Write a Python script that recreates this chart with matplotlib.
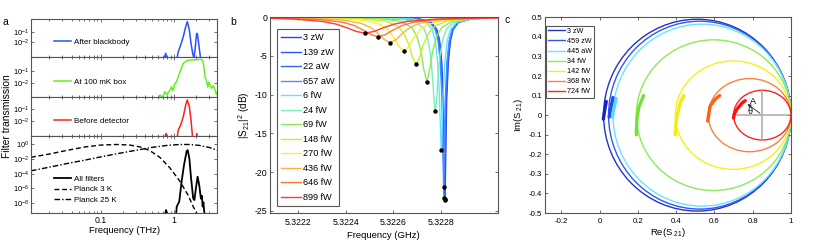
import numpy as np
import matplotlib
matplotlib.use('Agg')
import matplotlib.pyplot as plt
from matplotlib.patches import Ellipse
from matplotlib.lines import Line2D
from matplotlib.ticker import FuncFormatter, FixedLocator, LogLocator, NullFormatter

plt.rcParams['font.family'] = ['Liberation Sans', 'DejaVu Sans']
plt.rcParams['axes.unicode_minus'] = False
plt.rcParams['mathtext.fontset'] = 'custom'
plt.rcParams['mathtext.rm'] = 'Liberation Sans'
plt.rcParams['mathtext.it'] = 'Liberation Sans:italic'

# ---------------- panel a data (frequency THz, log10 transmission) ----------------
blue_f = [0.74, 0.77, 0.80, np.nan, 1.10, 1.145, 1.234, 1.34, 1.445, 1.52, 1.62, 1.706, 1.80, 1.875, 1.934, 2.04, 2.10, 2.17, 2.26, 2.30]
blue_log = [-3.6, -3.1, -3.6, np.nan, -3.6, -2.94, -2.27, -1.44, -0.44, 0.06, -0.77, -2.1, -3.1, -3.6, -2.77, -1.1, -1.25, -2.1, -3.1, -3.6]

green_f = [0.62, 0.644, 0.70, 0.754, 0.80, 0.882, 0.93, 0.97, 1.03, 1.08, 1.145, 1.234, 1.34, 1.49, 1.65, 2.04, 2.39, 2.5, 2.65, 2.79, 2.9, 3.0, 3.1, 3.27, 3.45, 3.62, 3.8, 3.9]
green_log = [-3.2, -2.94, -3.1, -2.67, -2.9, -2.54, -2.27, -2.6, -2.0, -1.9, -1.47, -0.94, -0.41, -0.2, -0.15, -0.12, -0.09, -0.3, -1.47, -1.87, -2.3, -1.9, -2.14, -2.4, -2.2, -2.54, -2.9, -2.7]

red_f = [0.75, 0.78, 0.80, np.nan, 1.10, 1.145, 1.234, 1.34, 1.445, 1.52, 1.62, 1.706, 1.80, np.nan, 2.02, 2.04, 2.06]
red_log = [-3.4, -2.98, -3.4, np.nan, -3.4, -2.71, -2.3, -1.63, -0.67, -0.26, -0.81, -1.89, -3.4, np.nan, -3.4, -3.0, -3.4]

all_f = [0.76, 0.78, 0.80, np.nan, 1.07, 1.09, 1.18, 1.27, 1.37, 1.49, 1.54, 1.62, 1.71, 1.83, 1.90, 1.99, 2.10, 2.21, 2.33, 2.40, 2.46, 2.52, 2.59, 2.62]
all_log = [-9.5, -8.96, -9.5, np.nan, -9.5, -8.5, -7.8, -5.1, -2.8, -0.9, -0.78, -1.9, -4.6, -7.4, -7.6, -6.0, -4.4, -5.55, -7.4, -7.0, -8.5, -7.9, -9.2, -9.5]

p3_f = [0.0112, 0.02, 0.035, 0.06, 0.1, 0.17, 0.25, 0.35, 0.47, 0.64, 0.88, 1.2, 1.57, 1.83, 2.05]
p3_log = [-1.75, -1.3, -0.8, -0.35, -0.08, 0.0, -0.08, -0.35, -0.85, -1.75, -3.2, -5.0, -7.0, -8.5, -9.4]

p25_f = [0.0112, 0.02, 0.035, 0.06, 0.1, 0.17, 0.3, 0.5, 0.8, 1.2, 1.6, 2.2, 3.0, 3.9]
p25_log = [-3.6, -3.1, -2.6, -2.15, -1.7, -1.25, -0.8, -0.4, -0.13, 0.0, 0.0, -0.12, -0.4, -0.78]

# ---------------- panel b data (GHz, dB) ----------------
b_labels = ['3 zW', '139 zW', '22 aW', '657 aW', '6 fW', '24 fW', '69 fW', '148 fW', '270 fW', '436 fW', '646 fW', '899 fW']
b_colors = ['#2244ff', '#2a55ff', '#3366ff', '#4d8cff', '#5ee6ff', '#77f0c0', '#88ec55', '#c4f030', '#ffef30', '#ffb040', '#ff7a30', '#ff3b2b']
b_freq = [
    [5.322080, 5.322703, 5.322760, 5.322784, 5.322795, 5.322804, 5.322811, 5.322814, 5.322818, 5.322822, 5.322825, 5.322832, 5.322841, 5.322852, 5.322875, 5.322933, 5.323040],
    [5.322080, 5.322701, 5.322758, 5.322782, 5.322793, 5.322802, 5.322809, 5.322812, 5.322816, 5.322820, 5.322823, 5.322830, 5.322839, 5.322850, 5.322873, 5.322931, 5.323040],
    [5.322080, 5.322699, 5.322756, 5.322780, 5.322791, 5.322800, 5.322807, 5.322810, 5.322814, 5.322818, 5.322821, 5.322828, 5.322837, 5.322848, 5.322871, 5.322929, 5.323040],
    [5.322080, 5.322692, 5.322752, 5.322776, 5.322788, 5.322798, 5.322805, 5.322808, 5.322812, 5.322816, 5.322819, 5.322826, 5.322836, 5.322848, 5.322872, 5.322932, 5.323040],
    [5.322080, 5.322672, 5.322737, 5.322763, 5.322776, 5.322786, 5.322794, 5.322798, 5.322802, 5.322806, 5.322810, 5.322818, 5.322828, 5.322841, 5.322867, 5.322932, 5.323040],
    [5.322080, 5.322617, 5.322697, 5.322729, 5.322745, 5.322758, 5.322767, 5.322772, 5.322777, 5.322782, 5.322787, 5.322796, 5.322809, 5.322825, 5.322857, 5.322937, 5.323040],
    [5.322080, 5.322531, 5.322636, 5.322678, 5.322699, 5.322716, 5.322728, 5.322741, 5.322754, 5.322766, 5.322783, 5.322804, 5.322846, 5.322951, 5.323040],
    [5.322080, 5.322436, 5.322566, 5.322618, 5.322644, 5.322665, 5.322680, 5.322696, 5.322712, 5.322727, 5.322748, 5.322774, 5.322826, 5.322956, 5.323040],
    [5.322080, 5.322315, 5.322480, 5.322546, 5.322579, 5.322605, 5.322625, 5.322645, 5.322665, 5.322685, 5.322711, 5.322744, 5.322810, 5.322975, 5.323040],
    [5.322080, 5.322177, 5.322382, 5.322464, 5.322505, 5.322538, 5.322562, 5.322587, 5.322612, 5.322636, 5.322669, 5.322710, 5.322792, 5.322997, 5.323040],
    [5.322080, 5.322286, 5.322386, 5.322436, 5.322476, 5.322506, 5.322536, 5.322566, 5.322596, 5.322636, 5.322686, 5.322786, 5.323040],
    [5.322080, 5.322181, 5.322301, 5.322361, 5.322409, 5.322445, 5.322481, 5.322517, 5.322553, 5.322601, 5.322661, 5.322781, 5.323040],
]
b_db = [
    [-0.01, -0.17, -0.64, -1.59, -2.99, -5.72, -10.62, -15.8, -23.6, -15.8, -10.62, -5.72, -2.99, -1.59, -0.64, -0.17, -0.05],
    [-0.01, -0.17, -0.64, -1.59, -2.99, -5.72, -10.62, -15.8, -23.5, -15.8, -10.62, -5.72, -2.99, -1.59, -0.64, -0.17, -0.05],
    [-0.01, -0.17, -0.64, -1.59, -2.99, -5.72, -10.62, -15.8, -23.3, -15.8, -10.62, -5.72, -2.99, -1.59, -0.64, -0.17, -0.05],
    [-0.01, -0.17, -0.64, -1.58, -2.98, -5.69, -10.53, -15.5, -21.9, -15.5, -10.53, -5.69, -2.98, -1.58, -0.64, -0.17, -0.05],
    [-0.01, -0.167, -0.63, -1.56, -2.93, -5.55, -9.99, -13.9, -17.17, -13.9, -9.99, -5.55, -2.93, -1.56, -0.63, -0.167, -0.05],
    [-0.015, -0.16, -0.60, -1.48, -2.75, -5.09, -8.58, -10.87, -12.13, -10.87, -8.58, -5.09, -2.75, -1.48, -0.60, -0.16, -0.06],
    [-0.02, -0.145, -0.54, -1.33, -2.42, -4.30, -6.66, -8.39, -6.66, -4.30, -2.42, -1.33, -0.54, -0.145, -0.07],
    [-0.03, -0.13, -0.48, -1.15, -2.06, -3.51, -5.11, -6.09, -5.11, -3.51, -2.06, -1.15, -0.48, -0.13, -0.07],
    [-0.04, -0.11, -0.40, -0.95, -1.66, -2.74, -3.80, -4.39, -3.80, -2.74, -1.66, -0.95, -0.40, -0.11, -0.075],
    [-0.06, -0.09, -0.33, -0.77, -1.33, -2.14, -2.88, -3.27, -2.88, -2.14, -1.33, -0.77, -0.33, -0.09, -0.07],
    [-0.09, -0.27, -0.63, -1.08, -1.70, -2.25, -2.52, -2.25, -1.70, -1.08, -0.63, -0.27, -0.07],
    [-0.14, -0.23, -0.53, -0.90, -1.41, -1.84, -2.05, -1.84, -1.41, -0.90, -0.53, -0.23, -0.07],
]
b_xticks = [5.3222, 5.3224, 5.3226, 5.3228]
b_yticks = [0, -5, -10, -15, -20, -25]

# ---------------- panel c data (Re, Im of S21) ----------------
c_labels = ['3 zW', '459 zW', '445 aW', '34 fW', '142 fW', '368 fW', '724 fW']
c_colors = ['#1f33c8', '#3355f0', '#66e6ff', '#8cec55', '#f2f21a', '#ff8040', '#ff2222']
c_arc_colors = ['#1426c0', '#2a48f0', '#55dcff', '#77e040', '#eeee10', '#ff6010', '#ff1010']
c_left = [0.021, 0.047, 0.070, 0.192, 0.396, 0.568, 0.700]
c_right = [1.0, 1.0, 1.0, 1.0, 1.0, 1.0, 1.0]
c_ry = [0.49, 0.48, 0.465, 0.385, 0.277, 0.187, 0.127]
c_arc_re = [
    [0.020, 0.024, 0.035],
    [0.050, 0.056, 0.070],
    [0.068, 0.072, 0.087],
    [0.192, 0.195, 0.205, 0.230],
    [0.395, 0.401, 0.422, 0.440],
    [0.565, 0.568, 0.578, 0.605, 0.627],
    [0.700, 0.703, 0.718, 0.744, 0.761],
]
c_arc_im = [
    [-0.02, 0.01, 0.07],
    [-0.01, 0.02, 0.09],
    [-0.01, 0.02, 0.085],
    [-0.10, -0.02, 0.04, 0.10],
    [-0.10, -0.02, 0.065, 0.10],
    [-0.03, -0.01, 0.048, 0.082, 0.10],
    [-0.015, 0.005, 0.031, 0.062, 0.074],
]
c_xticks = [-0.2, 0, 0.2, 0.4, 0.6, 0.8, 1]
c_yticks = [-0.5, -0.4, -0.3, -0.2, -0.1, 0, 0.1, 0.2, 0.3, 0.4, 0.5]

# ---------------- figure ----------------
W, H = 822, 244
fig = plt.figure(figsize=(W / 100, H / 100), dpi=100)

def pos(l, t, r, b):
    return [l / W, 1 - b / H, (r - l) / W, (b - t) / H]

SPC = '#555555'
TICK_FS = 6.3

def style(ax):
    for s in ax.spines.values():
        s.set_color(SPC)
        s.set_linewidth(0.8)
    ax.tick_params(which='both', direction='in', top=True, right=True, colors=SPC,
                   labelcolor='black', labelsize=TICK_FS, width=0.6, pad=2)
    ax.tick_params(which='major', length=2.5)
    ax.tick_params(which='minor', length=1.5)

# panel a
a_boxes = [(31, 19, 217.3, 57.3), (31, 57.3, 217.3, 96.7), (31, 96.7, 217.3, 136), (31, 136, 217.3, 213)]
a_ylims = [(10 ** -3.5, 10 ** 0.33), (10 ** -3.07, 10 ** 0.07), (10 ** -3.2, 10 ** 0.0), (10 ** -9.37, 10 ** 1.16)]
a_series = [(blue_f, blue_log, '#2a50ff', 'After blackbody'),
            (green_f, green_log, '#66ee22', 'At 100 mK box'),
            (red_f, red_log, '#ff2020', 'Before detector')]
a_leg_y = [0.392, 0.381, 0.389]
axes_a = []
for i, box in enumerate(a_boxes):
    ax = fig.add_axes(pos(*box))
    ax.set_xscale('log')
    ax.set_yscale('log')
    ax.set_xlim(0.0112, 3.9)
    ax.set_ylim(*a_ylims[i])
    style(ax)
    ax.tick_params(axis='y', labelsize=5.4, pad=1.5)
    ax.xaxis.set_major_locator(FixedLocator([0.01, 0.1, 1]))
    ax.xaxis.set_minor_locator(LogLocator(base=10, subs=np.arange(2, 10), numticks=20))
    ax.xaxis.set_minor_formatter(NullFormatter())
    ax.yaxis.set_minor_locator(FixedLocator([]))
    if i < 3:
        f, lg, col, lab = a_series[i]
        ax.plot(f, 10 ** np.array(lg), color=col, lw=1.1, label=lab)
        ax.yaxis.set_major_locator(FixedLocator([1e-2, 1e-1]))
        ax.set_yticklabels(['$10^{-2}$', '$10^{-1}$'])
        ax.tick_params(labelbottom=False)
        ax.legend(loc='center left', bbox_to_anchor=(0.122, a_leg_y[i]), frameon=False,
                  fontsize=5.8, handlelength=2.2, handletextpad=0.3, borderpad=0, borderaxespad=0)
    else:
        ax.plot(all_f, 10 ** np.array(all_log), color='black', lw=1.3, label='All filters')
        ax.plot(p3_f, 10 ** np.array(p3_log), color='black', lw=1.0, ls=(0, (3.5, 2)), label='Planck 3 K')
        ax.plot(p25_f, 10 ** np.array(p25_log), color='black', lw=1.0, ls=(0, (4, 1.5, 1, 1.5)), label='Planck 25 K')
        ax.yaxis.set_major_locator(FixedLocator([1e-8, 1e-6, 1e-4, 1e-2, 1e0]))
        ax.set_yticklabels(['$10^{-8}$', '$10^{-6}$', '$10^{-4}$', '$10^{-2}$', '$10^{0}$'])
        ax.set_xticklabels(['0.01', '0.1', '1'])
        ax.set_xlabel('Frequency (THz)', fontsize=6.8, labelpad=1)
        ax.legend(loc='center left', bbox_to_anchor=(0.122, 0.305), frameon=False,
                  fontsize=5.8, handlelength=2.2, handletextpad=0.3, borderpad=0, borderaxespad=0,
                  labelspacing=0.35)
    axes_a.append(ax)
fig.text(6.5 / W, 1 - 116 / H, 'Filter transmission', rotation=90, ha='center', va='center', fontsize=7.4)

# panel b
axb = fig.add_axes(pos(270, 17.3, 497.7, 213))
style(axb)
for f, d, col, lab in zip(b_freq, b_db, b_colors, b_labels):
    axb.plot(f, d, color=col, lw=1.0, label=lab)
for f, d in zip(b_freq, b_db):
    k = int(np.argmin(d))
    axb.plot(f[k], d[k], 'o', color='black', ms=2.2, zorder=5)
axb.set_xlim(5.32208, 5.32304)
axb.set_ylim(-25.3, 0)
axb.set_xticks(b_xticks)
axb.set_yticks(b_yticks)
axb.xaxis.set_major_formatter(FuncFormatter(lambda v, p: '%.4f' % v))
axb.yaxis.set_major_formatter(FuncFormatter(lambda v, p: '%g' % v))
axb.tick_params(axis='x', pad=3.5)
axb.set_xlabel('Frequency (GHz)', fontsize=6.8, labelpad=3)
axb.set_ylabel('|S$_{\\mathregular{21}}$|$^{\\mathregular{2}}$ (dB)', fontsize=7.2, labelpad=2)
lg = axb.legend(loc='upper left', bbox_to_anchor=(0.032, 0.939), fontsize=6.6, handlelength=2.1,
                handletextpad=0.3, labelspacing=0.6, borderaxespad=0, borderpad=0.45,
                fancybox=False, framealpha=1, edgecolor=SPC)
lg.get_frame().set_linewidth(0.8)

# panel c
axc = fig.add_axes(pos(545, 17.3, 791, 213))
style(axc)
for l, r, ry, col in zip(c_left, c_right, c_ry, c_colors):
    axc.add_patch(Ellipse(((l + r) / 2, 0), r - l, 2 * ry, fill=False, edgecolor=col, lw=1.0))
for re, im, col in zip(c_arc_re, c_arc_im, c_arc_colors):
    axc.plot(re, im, color=col, lw=2.4, solid_capstyle='round')
# gray cross on the smallest circle
cx = (c_left[-1] + c_right[-1]) / 2
axc.plot([c_left[-1], c_right[-1]], [0, 0], color='#aaaaaa', lw=1.1, zorder=1)
axc.plot([cx, cx], [-c_ry[-1], c_ry[-1]], color='#aaaaaa', lw=1.1, zorder=1)
axc.annotate('', xy=(c_arc_re[-1][-1], c_arc_im[-1][-1] - 0.008), xytext=(cx, 0),
             arrowprops=dict(arrowstyle='-|>', lw=0.6, color='#333333', mutation_scale=5))
axc.text(0.80, 0.069, 'A', fontsize=6.5, ha='center', va='center')
axc.text(0.784, 0.017, '\u03b8', fontsize=6.5, ha='center', va='center')
axc.set_xlim(-0.285, 1)
axc.set_ylim(-0.5, 0.5)
axc.set_xticks(c_xticks)
axc.set_yticks(c_yticks)
axc.xaxis.set_major_formatter(FuncFormatter(lambda v, p: '%g' % round(v, 2)))
axc.yaxis.set_major_formatter(FuncFormatter(lambda v, p: '%g' % round(v, 2)))
axc.tick_params(labelsize=5.6)
axc.tick_params(axis='x', pad=3.5)
axc.set_xlabel('Re(S$_{\\mathregular{\\ 21}}$)', fontsize=6.8, labelpad=1)
axc.set_ylabel('Im(S$_{\\mathregular{\\ 21}}$)', fontsize=6.8, labelpad=3)
c_handles = [Line2D([], [], color=col, lw=1.0) for col in c_colors]
lgc = axc.legend(c_handles, c_labels, loc='upper left', bbox_to_anchor=(0.004, 0.957), fontsize=5.2,
                 handlelength=2.4, handletextpad=0.2, labelspacing=0.42, borderaxespad=0, borderpad=0.3,
                 fancybox=False, framealpha=1, edgecolor=SPC)
lgc.get_frame().set_linewidth(0.8)

fig.text(5 / W, 1 - 21.7 / H, 'a', ha='center', va='center', fontsize=7.5)
fig.text(233 / W, 1 - 21.7 / H, 'b', ha='center', va='center', fontsize=7.5)
fig.text(507 / W, 1 - 20 / H, 'c', ha='center', va='center', fontsize=7.5)

fig.savefig('out.png', dpi=100)
